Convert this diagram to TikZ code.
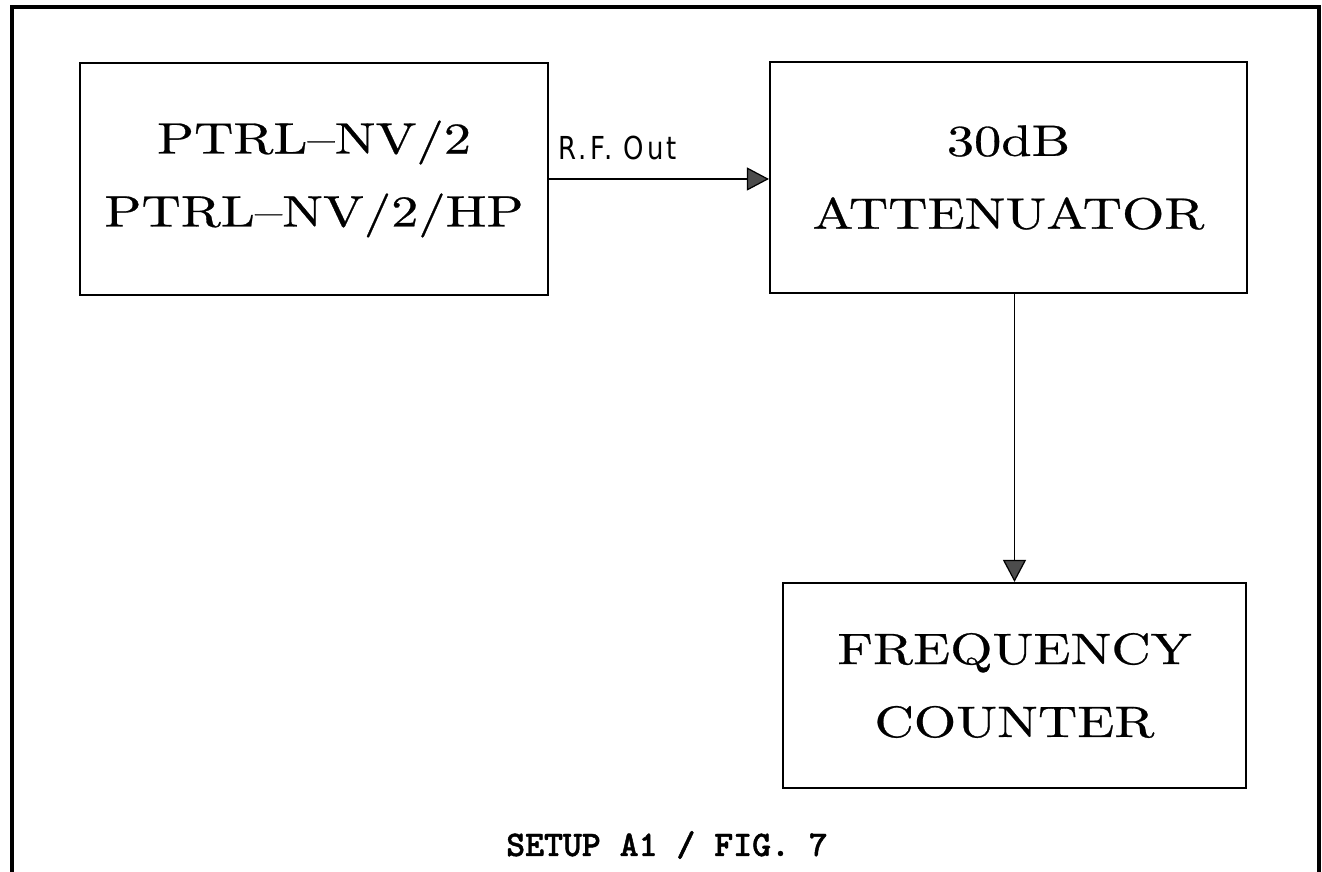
\documentclass[tikz,border=0pt]{standalone}
\usepackage{fontspec}
\usepackage{tikz}
\usetikzlibrary{positioning, arrows.meta}
\newfontfamily\unitfont[Ligatures=TeX, FakeStretch=1.24, FakeBold=0.6]{lmroman10-regular.otf}
\newfontfamily\labelfont[FakeStretch=0.82, LetterSpace=10]{DejaVu Sans}
\newfontfamily\capfont[FakeBold=1.2]{lmmonolt10-bold.otf}

\begin{document}
\begin{tikzpicture}[
  x=1cm, y=1cm,
  unit/.style={draw=black, line width=1.2pt, align=center, anchor=center,
               inner sep=0pt,
               font=\unitfont\fontsize{25}{41.5}\selectfont},
  sig/.style={-{Triangle[length=4.4mm,width=4.6mm,fill=black!70]},
              black, line width=0.7pt},
  tag/.style={font=\labelfont\fontsize{18}{20}\selectfont, inner sep=0pt,
              anchor=base west},
]

% =========================================================================
% Geometry: 26.44 x 17.44 sheet, frame open at the bottom edge.
% =========================================================================
\useasboundingbox (0,0) rectangle (26.44,17.44);
\draw[line width=2pt] (0.24,0) -- (0.24,17.30) -- (26.38,17.30) -- (26.38,0);

% ---- the three units ----------------------------------------------------
\node[unit, minimum width=9.36cm, minimum height=4.64cm] (src) at (6.28,13.86)
  {PTRL--NV/2\\PTRL--NV/2/HP};
\node[unit, minimum width=9.54cm, minimum height=4.62cm] (att) at (20.17,13.89)
  {30dB\\ATTENUATOR};
\node[unit, minimum width=9.26cm, minimum height=4.10cm] (ctr) at (20.29,3.73)
  {FREQUENCY\\COUNTER};

% ---- signal path --------------------------------------------------------
\draw[sig] (src.east) -- (src.east -| att.west);
\node[tag] (rfout) at ([shift={(0.18,0.38)}]src.east) {R.F. Out};
\draw[sig] (ctr.north |- att.south) -- (ctr.north);

% ---- caption ------------------------------------------------------------
\node[font=\capfont\fontsize{20.5}{23}\selectfont, inner sep=0pt,
      anchor=base] (cap) at (13.34,0.32) {SETUP A1 / FIG. 7};

\end{tikzpicture}
\end{document}
